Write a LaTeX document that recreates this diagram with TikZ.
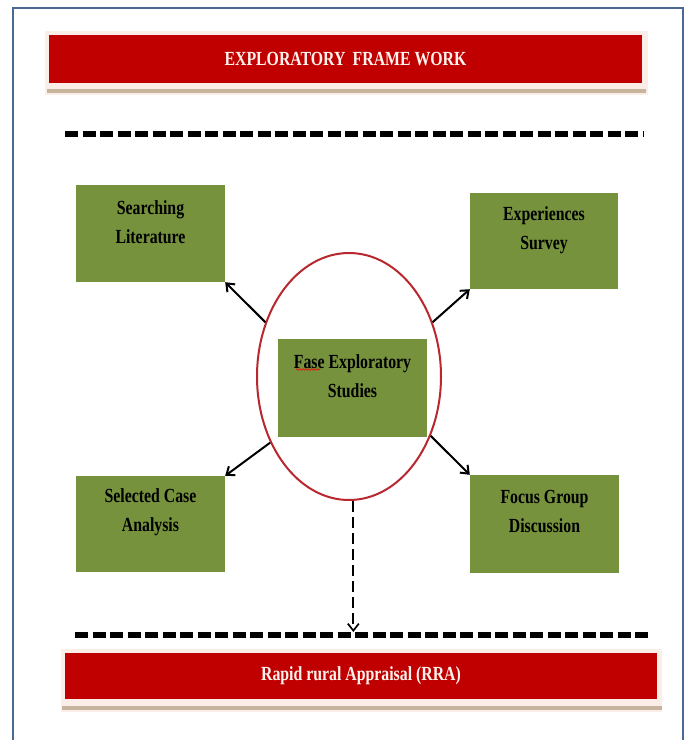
\documentclass[tikz,border=0pt]{standalone}
\usepackage{fontspec}
\newfontfamily\dfont[FakeStretch=0.79]{Liberation Serif}
\usetikzlibrary{shapes.geometric,arrows.meta,decorations.pathmorphing,calc}
\definecolor{barred}{HTML}{C00000}
\definecolor{boxgreen}{HTML}{76923C}
\definecolor{shadowtan}{HTML}{C6B59C}
\definecolor{glow}{HTML}{FBEEE8}
\definecolor{framecol}{HTML}{4B6A93}
\definecolor{ringred}{HTML}{B8282E}
\definecolor{offwhite}{HTML}{FFF2EC}
\tikzset{
  gbox/.style={rectangle, fill=boxgreen, draw=none, minimum width=149pt, minimum height=97pt, inner sep=0pt},
  txt/.style={font=\dfont\bfseries\fontsize{20}{29}\selectfont, align=center, inner sep=0pt, text=black},
  wtxt/.style={font=\dfont\bfseries\fontsize{20}{29}\selectfont, align=center, inner sep=0pt, text=offwhite},
  redbar/.style={rectangle, fill=barred, draw=none, inner sep=0pt},
  arr/.style={line width=2pt, -{Straight Barb[length=7pt,width=11pt]}},
  darr/.style={line width=1.7pt, dash pattern=on 11pt off 5pt, -{Straight Barb[length=7pt,width=11pt]}},
  bigdash/.style={line width=5.5pt, dash pattern=on 13pt off 4.5pt},
}
\begin{document}
\begin{tikzpicture}[x=1pt,y=-1pt]
\useasboundingbox (0,0) rectangle (686,740);
\fill[white] (0,0) rectangle (686,740);
% outer frame
\draw[framecol, line width=2pt] (12.7,742) -- (12.7,7.5) -- (683,7.5) -- (683,742);

% title bar
\fill[glow] (45,31) rectangle (648,95);
\fill[shadowtan] (47,89) rectangle (646,93);
\node[redbar, minimum width=593pt, minimum height=48pt] (title) at (345.5,59) {};
\node[wtxt] (titlet) at (title.center) {EXPLORATORY\, FRAME WORK};

% top dashed line
\coordinate (d1a) at (65,134);
\coordinate (d1b) at (643,134);
\draw[bigdash] (d1a) -- (d1b);

% ellipse
\node[ellipse, draw=ringred, line width=2pt, minimum width=184pt, minimum height=247pt, inner sep=0pt] (c) at (349,376.5) {};

% boxes
\node[gbox] (sl) at (150.5,233.5) {};
\node[txt] (slt) at ($(sl.north)+(0,37)$) {Searching\\Literature};
\node[gbox, minimum width=148pt, minimum height=96pt] (es) at (544,241) {};
\node[txt] (est) at ($(es.north)+(0,37)$) {Experiences\\Survey};
\node[gbox, minimum height=96pt] (sc) at (150.5,524) {};
\node[txt] (sct) at ($(sc.north)+(0,36)$) {Selected Case\\Analysis};
\node[gbox, minimum height=98pt] (fg) at (544.5,524) {};
\node[txt] (fgt) at ($(fg.north)+(0,37)$) {Focus Group\\Discussion};
\node[gbox, minimum height=98pt] (cb) at (352.5,388) {};
\node[txt] (cbt) at ($(cb.north)+(0,37)$) {Fase Exploratory\\Studies};
\coordinate (sqa) at (296,369.5);
\coordinate (sqb) at (320,369.5);
\draw[red, line width=0.6pt, decorate, decoration={snake, amplitude=0.8pt, segment length=3pt}] (sqa) -- (sqb);

% arrows
\draw[arr] (c.147) -- (sl.south east);
\draw[arr] (c.33) -- (es.south west);
\draw[arr] (c.220) -- (sc.north east);
\draw[arr] (c.-36) -- (fg.north west);

% bottom dashed line and dashed arrow
\coordinate (d2a) at (75,635);
\coordinate (d2b) at (652,635);
\coordinate (tip) at (354,632);
\draw[bigdash] (d2a) -- (d2b);
\draw[darr] (c.-88) -- (c.-88 |- tip);

% RRA bar
\fill[glow] (61,649) rectangle (662,712);
\fill[shadowtan] (62,706) rectangle (662,710);
\node[redbar, minimum width=592pt, minimum height=46pt] (rra) at (361,676) {};
\node[wtxt] (rrat) at (rra.center) {Rapid rural Appraisal (RRA)};
\end{tikzpicture}
\end{document}
